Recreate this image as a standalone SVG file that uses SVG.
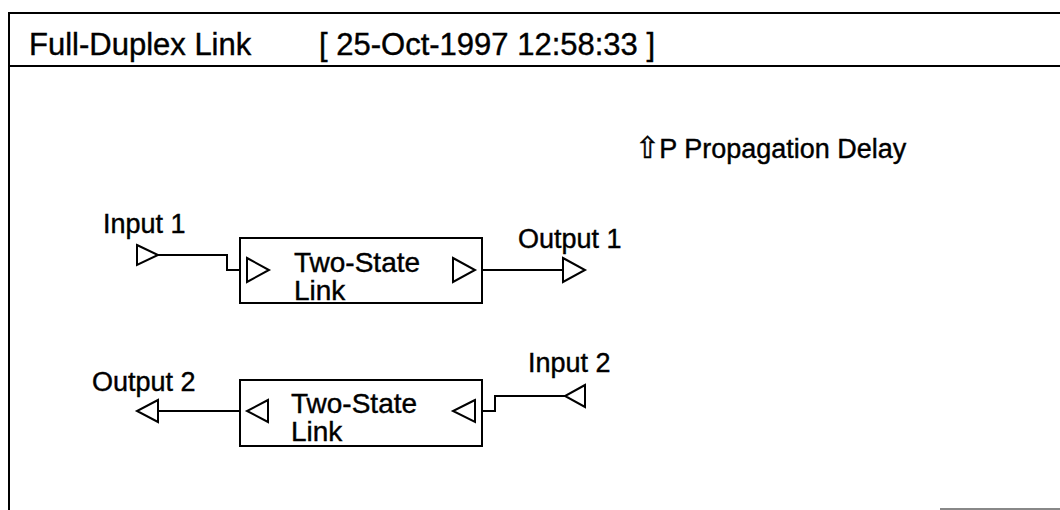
<svg xmlns="http://www.w3.org/2000/svg" width="1060" height="510" viewBox="0 0 1060 510">
<style>
text{font-family:"Liberation Sans",Arial,sans-serif;fill:#000;stroke:#000;stroke-width:0.4}
.t{font-size:31px}
.l{font-size:27px}
.b{font-size:28px}
.ln{fill:none;stroke:#000;stroke-width:2}
.box{fill:#fff;stroke:#000;stroke-width:2}
.tri{fill:#fff;stroke:#000;stroke-width:2;stroke-linejoin:miter}
</style>
<rect width="1060" height="510" fill="#fff"/>
<g id="frame">
<path class="ln" d="M9,510 V13 H1060"/>
<line class="ln" x1="9" y1="66" x2="1060" y2="66"/>
<line x1="940" y1="509" x2="1060" y2="509" stroke="#888" stroke-width="2"/>
<text class="t" x="29" y="55">Full-Duplex Link</text>
<text class="t" x="319" y="55">[ 25-Oct-1997 12:58:33 ]</text>
</g>
<g id="legend">
<text class="l" x="635" y="158"><tspan font-family="DejaVu Sans" font-size="30">⇧</tspan><tspan dx="-1">P Propagation Delay</tspan></text>
</g>
<g id="connectors">
<polyline class="ln" points="158,255 227,255 227,270 240,270"/>
<polyline class="ln" points="482,270 563,270"/>
<polyline class="ln" points="240,411 158,411"/>
<polyline class="ln" points="482,411 495,411 495,396 565,396"/>
</g>
<g id="input1">
<polygon class="tri" points="137,245 158,255 137,265"/>
<text class="l" x="103" y="233">Input 1</text>
</g>
<g id="link1">
<rect class="box" x="240" y="238" width="242" height="65"/>
<polygon class="tri" points="247,258 269,270 247,282"/>
<polygon class="tri" points="453,258 475,270 453,282"/>
<text class="b" x="294" y="272">Two-State</text>
<text class="b" x="294" y="300">Link</text>
</g>
<g id="output1">
<polygon class="tri" points="563,258 585,270 563,282"/>
<text class="l" x="518" y="248">Output 1</text>
</g>
<g id="link2">
<rect class="box" x="240" y="380" width="242" height="66"/>
<polygon class="tri" points="268,400 247,411 268,422"/>
<polygon class="tri" points="475,400 453,411 475,422"/>
<text class="b" x="291" y="413">Two-State</text>
<text class="b" x="291" y="441">Link</text>
</g>
<g id="output2">
<polygon class="tri" points="158,400 137,411 158,422"/>
<text class="l" x="92" y="391">Output 2</text>
</g>
<g id="input2">
<polygon class="tri" points="585,385 565,396 585,407"/>
<text class="l" x="528" y="372">Input 2</text>
</g>
</svg>
